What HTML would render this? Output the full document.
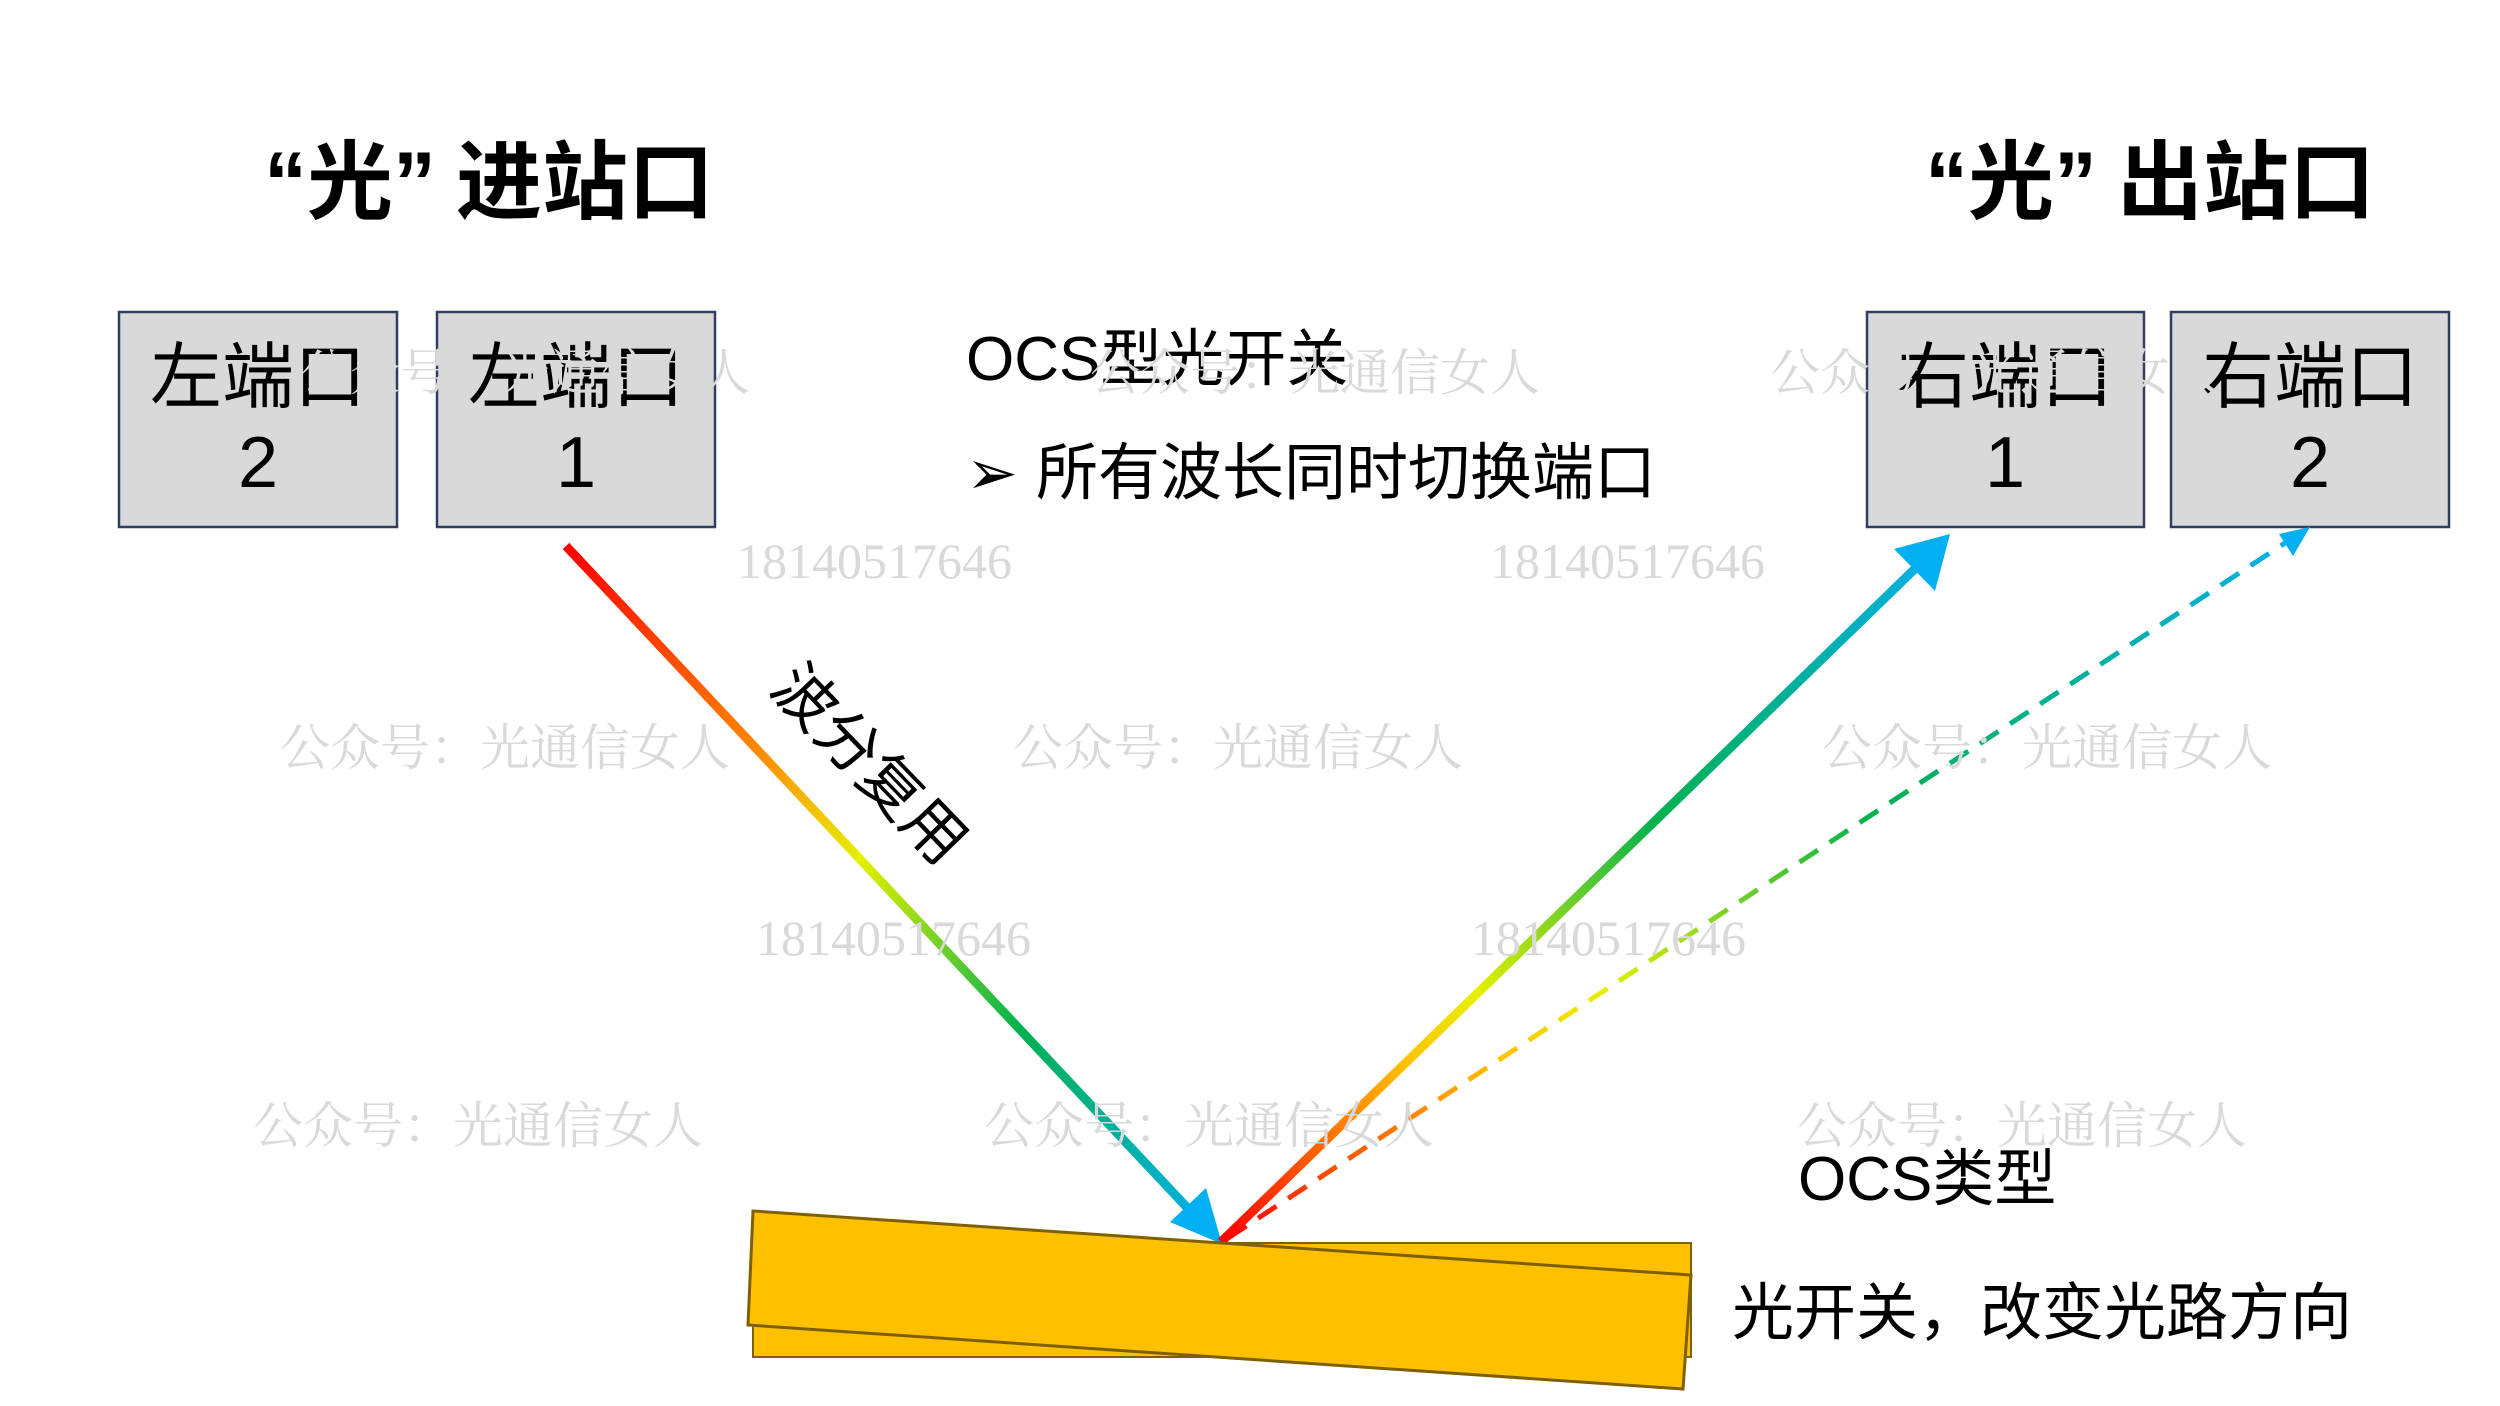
<!DOCTYPE html>
<html><head><meta charset="utf-8"><style>
html,body{margin:0;padding:0;background:#fff;}
svg{display:block;}
.cj{font-family:"Liberation Sans","Noto Sans CJK SC",sans-serif;}
.wm{font-family:"Liberation Serif","Noto Serif CJK SC",serif;fill:#d9d9d9;font-size:50px;}
</style></head><body>
<svg width="2500" height="1406" viewBox="0 0 2500 1406" xmlns="http://www.w3.org/2000/svg">
<defs>
<linearGradient id="g1" gradientUnits="userSpaceOnUse" x1="566" y1="546" x2="1218" y2="1240">
<stop offset="0" stop-color="#ff0000"/><stop offset="0.3" stop-color="#ff8c00"/><stop offset="0.45" stop-color="#e6f000"/><stop offset="0.7" stop-color="#00b050"/><stop offset="1" stop-color="#00b0f0"/>
</linearGradient>
<linearGradient id="g2" gradientUnits="userSpaceOnUse" x1="1221" y1="1240" x2="1947" y2="537">
<stop offset="0" stop-color="#ff0000"/><stop offset="0.25" stop-color="#ffc000"/><stop offset="0.35" stop-color="#e6f000"/><stop offset="0.6" stop-color="#00b050"/><stop offset="1" stop-color="#00b0f0"/>
</linearGradient>
<linearGradient id="g3" gradientUnits="userSpaceOnUse" x1="1221" y1="1240" x2="2308" y2="528">
<stop offset="0" stop-color="#ff0000"/><stop offset="0.25" stop-color="#ffc000"/><stop offset="0.35" stop-color="#e6f000"/><stop offset="0.6" stop-color="#00b050"/><stop offset="1" stop-color="#00b0f0"/>
</linearGradient>
</defs>

<text class="cj" x="264" y="212" font-size="86" font-weight="bold">“光”<tspan dx="20">进站口</tspan></text>
<text class="cj" x="1925" y="212" font-size="86" font-weight="bold">“光”<tspan dx="20">出站口</tspan></text>

<g fill="#d9d9d9" stroke="#2f3f5f" stroke-width="2.5">
<rect x="119" y="312" width="278" height="215"/>
<rect x="437" y="312" width="278" height="215"/>
<rect x="1867" y="312" width="277" height="215"/>
<rect x="2171" y="312" width="278" height="215"/>
</g>
<g class="cj" font-size="72" text-anchor="middle">
<text x="258" y="402">左端口</text><text x="258" y="487">2</text>
<text x="576" y="402">左端口</text><text x="576" y="487">1</text>
<text x="2005" y="402">右端口</text><text x="2005" y="487">1</text>
<text x="2310" y="402">右端口</text><text x="2310" y="487">2</text>
</g>

<text class="cj" x="966" y="380" font-size="62">OCS型光开关</text>
<text class="cj" x="966" y="494" font-size="62">➢</text>
<text class="cj" x="1036" y="494" font-size="62">所有波长同时切换端口</text>

<line x1="566" y1="546" x2="1195" y2="1216" stroke="url(#g1)" stroke-width="9"/>
<polygon points="1222,1244 1170,1222 1206,1188" fill="#00b0f0"/>
<line x1="1221" y1="1242" x2="1925" y2="559" stroke="url(#g2)" stroke-width="9"/>
<polygon points="1950,534 1935,591 1894,549" fill="#00b0f0"/>
<line x1="1228" y1="1238" x2="2288" y2="541" stroke="url(#g3)" stroke-width="5" stroke-dasharray="22,14"/>
<polygon points="2310,527 2293,556 2279,534" fill="#00b0f0"/>

<text class="cj" font-size="62" transform="translate(768,690) rotate(46)">波分复用</text>

<rect x="753" y="1243" width="938" height="114" fill="#ffc000" stroke="#7f6000" stroke-width="2"/>
<polygon points="753,1211 1691,1275 1683,1389 748,1325" fill="#ffc000" stroke="#7f6000" stroke-width="3"/>

<text class="cj" x="1798" y="1200" font-size="62">OCS类型</text>
<text class="cj" x="1732" y="1334" font-size="62">光开关，改变光路方向</text>

<g class="wm">
<text x="300" y="390">公众号：光通信女人</text>
<text x="1090" y="390">公众号：光通信女人</text>
<text x="1770" y="390">公众号：光通信女人</text>
<text x="280" y="765">公众号：光通信女人</text>
<text x="1013" y="765">公众号：光通信女人</text>
<text x="1822" y="765">公众号：光通信女人</text>
<text x="253" y="1143">公众号：光通信女人</text>
<text x="984" y="1143">公众号：光通信女人</text>
<text x="1797" y="1143">公众号：光通信女人</text>
<text x="737" y="578">18140517646</text>
<text x="1490" y="578">18140517646</text>
<text x="756" y="955">18140517646</text>
<text x="1471" y="955">18140517646</text>
</g>
</svg>
</body></html>
